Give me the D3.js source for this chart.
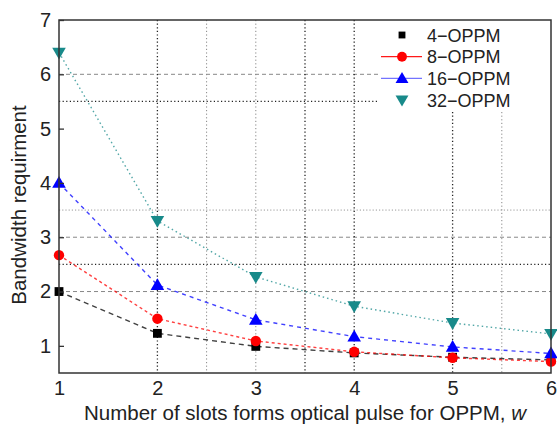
<!DOCTYPE html>
<html><head><meta charset="utf-8">
<script src="https://cdn.jsdelivr.net/npm/d3@7"></script>
<style>body{margin:0;background:#fff}svg{display:block}text{font-family:"Liberation Sans",Arial,sans-serif;fill:#222}</style>
</head><body>
<svg id="c" width="557" height="429"></svg>
<script>
const wValues = [1, 2, 3, 4, 5, 6];
const oppm4 = [2.0, 1.23, 0.99, 0.87, 0.79, 0.74];
const oppm8 = [2.67, 1.5, 1.09, 0.89, 0.78, 0.71];
const oppm16 = [4.0, 2.12, 1.48, 1.17, 0.98, 0.86];
const oppm32 = [6.4, 3.3, 2.27, 1.73, 1.42, 1.22];
const seriesNames = ["4\u2212OPPM", "8\u2212OPPM", "16\u2212OPPM", "32\u2212OPPM"];
const xTicks = [1, 2, 3, 4, 5, 6];
const yTicks = [1, 2, 3, 4, 5, 6, 7];
const hGridBlack = [2.5, 5.5];
const hGridGreyDash = [2, 3, 6];
const hGridGreyDot = [3.5];
const vGridBlack = [2, 3.5, 4, 5];
const vGridGrey = [2.5, 3, 5.5];

const svg = d3.select("#c");
const L = 59, R = 551, T = 20, B = 373;
const x = d3.scaleLinear().domain([1, 6]).range([L, R]);
const y = d3.scaleLinear().domain([0.5, 7]).range([B, T]);

const legL = 378, legB = 112;

const g = svg.append("g");
function hline(v, stroke, dash, w) {
  const yy = y(v);
  const x2 = (yy < legB) ? legL : R;
  g.append("line").attr("x1", L).attr("x2", x2).attr("y1", yy).attr("y2", yy)
    .attr("stroke", stroke).attr("stroke-width", w).attr("stroke-dasharray", dash);
}
function vline(v, stroke, dash, w) {
  const xx = x(v);
  const y1 = (xx > legL) ? legB : T;
  g.append("line").attr("x1", xx).attr("x2", xx).attr("y1", y1).attr("y2", B)
    .attr("stroke", stroke).attr("stroke-width", w).attr("stroke-dasharray", dash);
}
hGridBlack.forEach(v => hline(v, "#222", "1.2,2.4", 1.2));
hGridGreyDash.forEach(v => hline(v, "#888", "4,3", 1));
hGridGreyDot.forEach(v => hline(v, "#999", "1.2,2", 1));
vGridBlack.forEach(v => vline(v, "#222", "1.2,2.4", 1.3));
vGridGrey.forEach(v => vline(v, "#888", "1.2,2.4", 1));

const series = [
  {name: seriesNames[0], vals: oppm4, color: "#000", dash: "5,4", sym: d3.symbolSquare, size: 78, rot: 0},
  {name: seriesNames[1], vals: oppm8, color: "#ff0000", dash: "3,3", sym: d3.symbolCircle, size: 85, rot: 0},
  {name: seriesNames[2], vals: oppm16, color: "#0000ff", dash: "4,4", sym: d3.symbolTriangle, size: 80, rot: 0},
  {name: seriesNames[3], vals: oppm32, color: "#188a8a", dash: "1.5,3", sym: d3.symbolTriangle, size: 80, rot: 180}
];
const line = d3.line().x((d, i) => x(wValues[i])).y(d => y(d));
series.forEach(s => {
  g.append("path").attr("d", line(s.vals)).attr("fill", "none")
    .attr("stroke", s.color).attr("stroke-width", 1.4).attr("stroke-opacity", 0.75)
    .attr("stroke-dasharray", s.dash);
});
series.forEach(s => {
  g.selectAll(null).data(s.vals).enter().append("path")
    .attr("d", d3.symbol().type(s.sym).size(s.size))
    .attr("transform", (d, i) => `translate(${x(wValues[i])},${y(d) + (s.sym === d3.symbolTriangle ? (s.rot ? -1 : 1) : 0)}) rotate(${s.rot})`)
    .attr("fill", s.color);
});

svg.append("rect").attr("x", L).attr("y", T).attr("width", R - L).attr("height", B - T)
  .attr("fill", "none").attr("stroke", "#333").attr("stroke-width", 1.5);

const xAxis = d3.axisBottom(x).tickValues(xTicks).tickSize(0).tickPadding(8).tickFormat(d3.format("d"));
const ax = svg.append("g").attr("transform", `translate(0,${B})`).call(xAxis);
ax.select(".domain").remove();
ax.selectAll("text").style("font-size", "20px").attr("fill", "#222");
const yAxis = d3.axisLeft(y).tickValues(yTicks).tickSize(-5).tickPadding(8).tickFormat(d3.format("d"));
const ay = svg.append("g").attr("transform", `translate(${L},0)`).call(yAxis);
ay.select(".domain").remove();
ay.selectAll("line").attr("stroke", "#333").attr("stroke-width", 1.3);
ay.selectAll("text").style("font-size", "20px").attr("fill", "#222");

const xt = svg.append("text").attr("x", (L + R) / 2).attr("y", 420).attr("text-anchor", "middle").style("font-size", "20.5px");
xt.append("tspan").text("Number of slots forms optical pulse for OPPM, ");
xt.append("tspan").style("font-style", "italic").text("w");
svg.append("text").attr("transform", `translate(26,205) rotate(-90)`)
  .attr("text-anchor", "middle").style("font-size", "20.5px").text("Bandwidth requirment");

const legend = svg.append("g");
series.forEach((s, i) => {
  const ly = 35 + i * 21.7;
  if (i === 1 || i === 2) {
    legend.append("line").attr("x1", 381).attr("x2", 422).attr("y1", ly).attr("y2", ly)
      .attr("stroke", s.color).attr("stroke-width", 1.3).attr("stroke-opacity", i === 2 ? 0.55 : 0.9);
  }
  legend.append("path").attr("d", d3.symbol().type(s.sym).size(s.size * (i === 0 ? 0.6 : 0.9)))
    .attr("transform", `translate(402,${ly + (s.sym === d3.symbolTriangle ? (s.rot ? -1 : 1) : 0)}) rotate(${s.rot})`)
    .attr("fill", s.color);
  legend.append("text").attr("x", 427).attr("y", ly + 6.5).style("font-size", "18px").text(s.name);
});
</script>
</body></html>
